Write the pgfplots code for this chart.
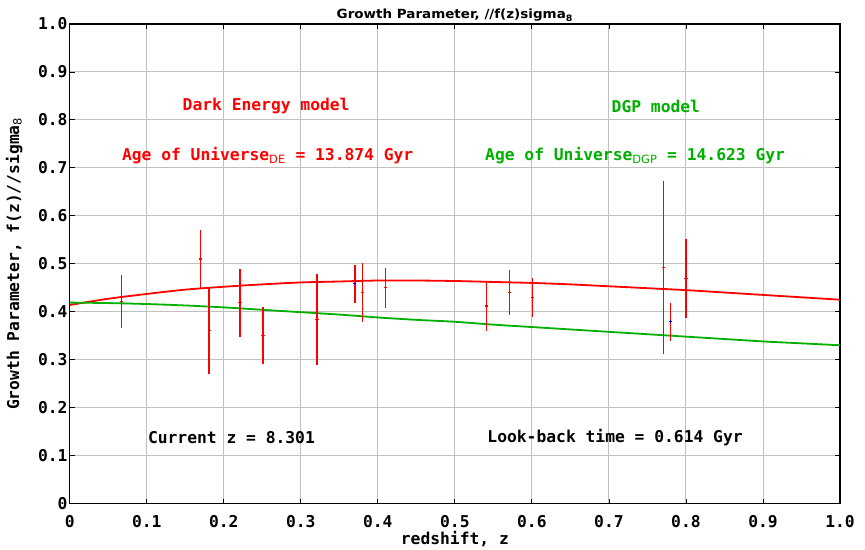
\documentclass[border=0pt]{standalone}
\usepackage{pgfplots}
\pgfplotsset{compat=1.18}
\usepackage{fontspec}
\setmainfont{DejaVu Sans Mono}
\newfontfamily\titlefont{DejaVu Sans}
\newfontfamily\subfont{DejaVu Sans}
\definecolor{dgpgreen}{RGB}{0,175,0}
\definecolor{gridgray}{RGB}{192,192,192}
\newcommand{\mono}{\fontsize{16.3}{18}\selectfont\bfseries}
\begin{document}
\begin{tikzpicture}
\begin{axis}[
  scale only axis,
  width=770.3pt, height=479.5pt,
  xmin=0, xmax=1, ymin=0, ymax=1,
  xtick={0,0.1,...,1.0}, ytick={0,0.1,...,1.0},
  xticklabels={0,0.1,0.2,0.3,0.4,0.5,0.6,0.7,0.8,0.9,1.0},
  yticklabels={0,0.1,0.2,0.3,0.4,0.5,0.6,0.7,0.8,0.9,1.0},
  /pgf/number format/assume math mode=true,
  tick label style={font=\mono},
  yticklabel style={inner sep=1pt, xshift=-1pt},
  xticklabel style={inner sep=1pt, yshift=-11pt},
  tick align=inside, major tick length=5pt,
  tick style={black, line width=0.8pt},
  grid=major, major grid style={gridgray, line width=0.9pt},
  axis line style={black, line width=1.4pt},
  xlabel={redshift, z},
  ylabel={Growth Parameter, f(z)//sigma\textsubscript{\subfont\mdseries 8}},
  label style={font=\mono},
  xlabel style={yshift=1pt},
  ylabel style={yshift=11pt},
  title={\titlefont\bfseries\fontsize{12.6}{14}\selectfont\scalebox{1.07}[1]{Growth Parameter, //f(z)sigma\textsubscript{8}}},
  title style={yshift=-7pt},
  clip=false,
]
% Dark energy model
\addplot[red, line width=1.8pt, smooth] coordinates {
(0,0.414) (0.05,0.427) (0.1,0.437) (0.15,0.446) (0.2,0.452) (0.25,0.457)
(0.3,0.461) (0.35,0.463) (0.4,0.465) (0.45,0.465) (0.5,0.464) (0.55,0.462)
(0.6,0.460) (0.65,0.457) (0.7,0.453) (0.75,0.449) (0.8,0.445) (0.85,0.440)
(0.9,0.435) (0.95,0.430) (1.0,0.425)};
% DGP model
\addplot[dgpgreen, line width=1.8pt, smooth] coordinates {
(0,0.419) (0.05,0.418) (0.1,0.416) (0.15,0.413) (0.2,0.409) (0.25,0.404)
(0.3,0.399) (0.35,0.394) (0.4,0.388) (0.45,0.383) (0.5,0.379) (0.55,0.373)
(0.6,0.368) (0.65,0.363) (0.7,0.358) (0.75,0.353) (0.8,0.348) (0.85,0.343)
(0.9,0.338) (0.95,0.334) (1.0,0.330)};
% data
\addplot[draw=red, only marks, mark=-, mark size=1.6pt, line width=1.4pt,
  mark options={draw=red, line width=1.2pt},
  error bars/.cd, y dir=both, y explicit, error mark=none,
  error bar style={draw=red, solid, line width=1.6pt}] coordinates {
(0.067,0.422) +- (0,0.055)
(0.170,0.510) +- (0,0.060)
(0.181,0.360) +- (0,0.090)
(0.221,0.419) +- (0,0.071)
(0.251,0.350) +- (0,0.059)
(0.321,0.383) +- (0,0.095)
(0.370,0.458) +- (0,0.039)
(0.380,0.440) +- (0,0.061)
(0.410,0.450) +- (0,0.042)
(0.541,0.412) +- (0,0.052)
(0.571,0.440) +- (0,0.046)
(0.601,0.429) +- (0,0.041)
(0.771,0.492) +- (0,0.181)
(0.780,0.379) +- (0,0.040)
(0.800,0.469) +- (0,0.082)
};
\addplot[blue, only marks, mark=+, mark size=1.3pt, line width=0.8pt] coordinates {
(0.370,0.458) (0.780,0.379)};
% annotations
\node[red, font=\mono] at (axis cs:0.255,0.829) {Dark Energy model};
\node[red, font=\mono] at (axis cs:0.257,0.725) {Age of Universe\textsubscript{\subfont\mdseries DE} = 13.874 Gyr};
\node[dgpgreen, font=\mono] at (axis cs:0.761,0.829) {DGP model};
\node[dgpgreen, font=\mono] at (axis cs:0.734,0.725) {Age of Universe\textsubscript{\subfont\mdseries DGP} = 14.623 Gyr};
\node[black, font=\mono] at (axis cs:0.210,0.137) {Current z = 8.301};
\node[black, font=\mono] at (axis cs:0.708,0.137) {Look-back time = 0.614 Gyr};
\end{axis}
\pgfresetboundingbox
\path (current axis.south west) ++(-69.7pt,-45.5pt) coordinate (bbA);
\path (current axis.north east) ++(25pt,24pt) coordinate (bbB);
\path[use as bounding box] (bbA) rectangle (bbB);
\end{tikzpicture}
\end{document}
